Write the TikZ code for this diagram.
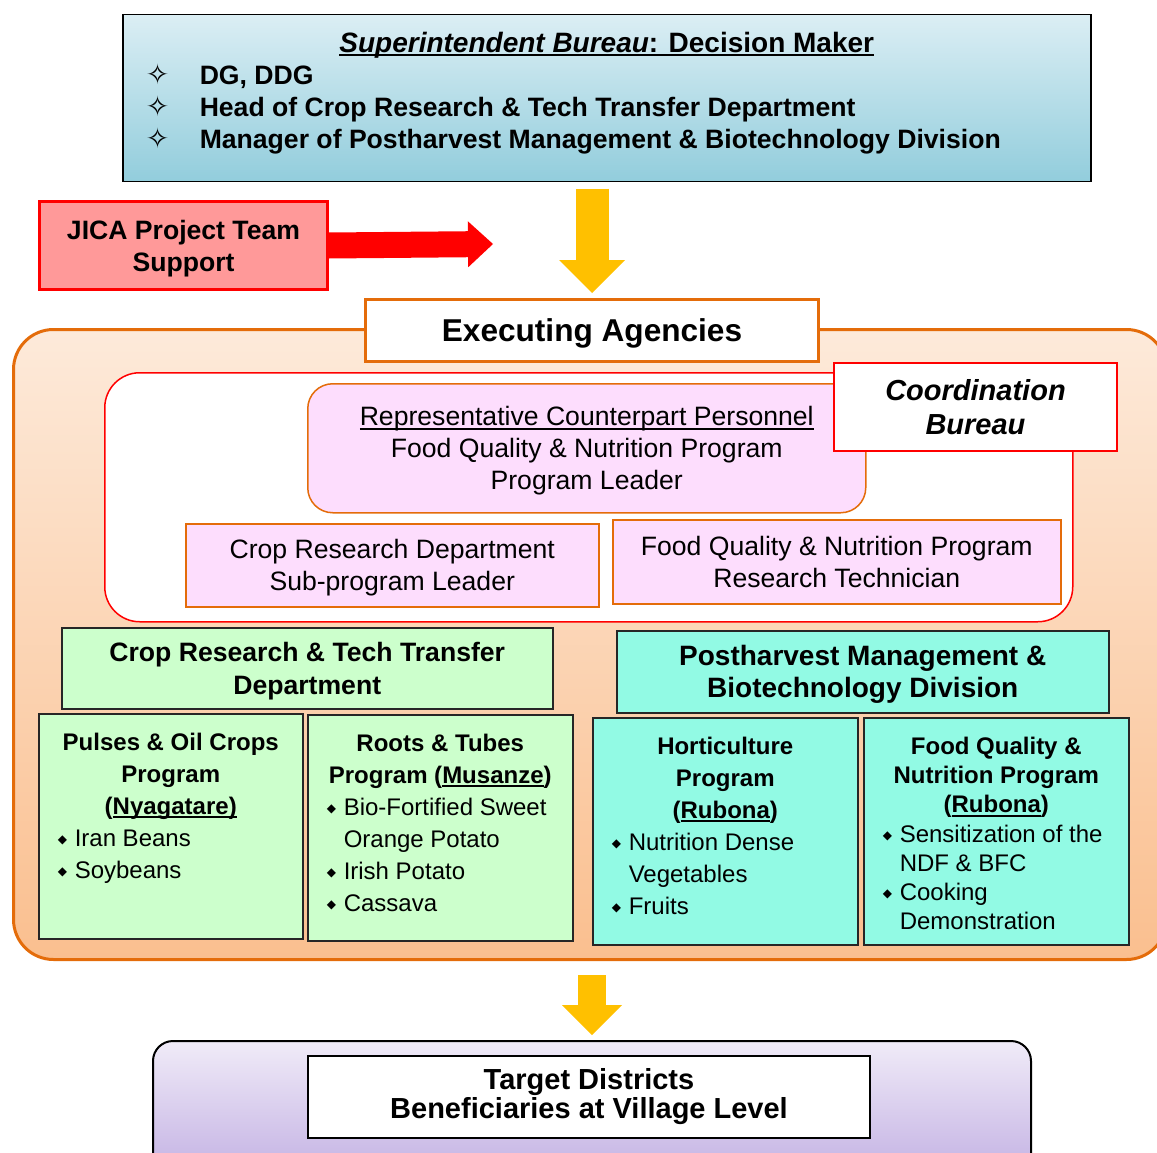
\documentclass[tikz,border=0pt]{standalone}
\usepackage{fontspec}
\setmainfont{Liberation Sans}
\newfontfamily\symfont{DejaVu Sans}
\usepackage{tikz}
\usetikzlibrary{arrows.meta,positioning}
\usepackage{xcolor}
\definecolor{supblue}{RGB}{146,205,220}
\definecolor{supbluelight}{RGB}{219,238,244}
\definecolor{exorange}{RGB}{228,108,10}
\definecolor{exlight}{RGB}{253,234,218}
\definecolor{exdark}{RGB}{250,191,143}
\definecolor{cpink}{RGB}{253,221,253}
\definecolor{cgreen}{RGB}{204,255,204}
\definecolor{cteal}{RGB}{146,250,228}
\definecolor{jicared}{RGB}{255,153,153}
\definecolor{arrowyellow}{RGB}{255,192,0}
\definecolor{tglight}{RGB}{240,235,248}
\definecolor{tgdark}{RGB}{195,177,227}
\tikzstyle{yarrow} = [line width=33pt,-{Triangle[width=66pt,length=33pt,line width=0pt]},color=arrowyellow]
\newcommand{\bul}{\makebox[17pt][l]{\raisebox{3pt}{\symfont\fontsize{12}{12}\selectfont ◆}}}
\newcommand{\dstar}{\makebox[54pt][l]{\symfont\fontsize{28}{28}\selectfont ✧}}
\newcommand{\ulin}[1]{\leavevmode\setbox0\hbox{#1}\rlap{\rule[-4pt]{\wd0}{1.8pt}}\box0}
\newcommand{\fixbox}[3]{\parbox[c][#2][t]{#1}{#3}}

\begin{document}
\begin{tikzpicture}[
    x=1pt, y=-1pt,
    every node/.style={inner sep=0pt, font=\fontsize{26.6}{32}\selectfont},
    unit/.style={rectangle, anchor=north west, align=center},
    pinkunit/.style={unit, draw=exorange, line width=1.5pt, fill=cpink},
    header/.style={unit, draw=black!85, line width=1.5pt, text depth=0pt, font=\fontsize{26.6}{33}\selectfont\bfseries},
    program/.style={rectangle, anchor=north west, draw=black!85, line width=1.5pt, inner xsep=19pt, inner ysep=19pt, font=\fontsize{24}{32}\selectfont}
]
\useasboundingbox (0,0) rectangle (1157,1153);

% Superintendent bureau
\node (super) [unit, draw=black, line width=1.5pt, top color=supbluelight, bottom color=supblue, inner xsep=23pt, inner ysep=17pt] at (122,14) {\fixbox{922pt}{133pt}{%
  {\centering\fontsize{28}{32}\selectfont\bfseries\ulin{\textit{Superintendent Bureau}: Decision Maker}\par}
  \raggedright\bfseries
  \dstar DG, DDG\\
  \dstar Head of Crop Research \& Tech Transfer Department\\
  \dstar Manager of Postharvest Management \& Biotechnology Division}};

% JICA support
\node (jica) [unit, draw=red, line width=3pt, fill=jicared, minimum width=288pt, minimum height=88pt, text depth=0pt, font=\fontsize{26.6}{32}\selectfont\bfseries] at (38,200) {JICA Project Team\\Support};
\coordinate (jicatip) at (493,244);

% Executing agencies
\node (exebg) [unit, draw=exorange, line width=3pt, rounded corners=40pt, top color=exlight, bottom color=exdark, minimum width=1153pt, minimum height=630pt] at (12,328) {};
\node (exec) [unit, draw=exorange, line width=3pt, fill=white, minimum width=453pt, minimum height=62pt, text depth=0pt, font=\fontsize{31.6}{36}\selectfont\bfseries] at (364,298) {Executing Agencies};

% Coordination bureau
\node (coordbg) [unit, draw=red, line width=1.5pt, fill=white, rounded corners=35pt, minimum width=968pt, minimum height=249pt] at (104,372) {};
\node (rep) [pinkunit, rounded corners=25pt, minimum width=558pt, minimum height=129pt, text depth=0pt] at (307,383) {\ulin{Representative Counterpart Personnel}\\Food Quality \& Nutrition Program\\Program Leader};
\node (coord) [unit, draw=red, line width=2pt, fill=white, minimum width=283pt, minimum height=88pt, font=\fontsize{29}{34}\selectfont\bfseries\itshape] at (833,362) {Coordination\\Bureau};
\node (subleader) [pinkunit, minimum width=413pt, minimum height=83pt, text depth=0pt] at (185,523) {Crop Research Department\\Sub-program Leader};
\node (technician) [pinkunit, minimum width=448pt, minimum height=84pt] at (612,519) {Food Quality \& Nutrition Program\\Research Technician};

% Departments
\node (cropdept) [header, fill=cgreen, minimum width=491pt, minimum height=81pt] at (61,627) {Crop Research \& Tech Transfer\\Department};
\node (phdiv) [header, fill=cteal, minimum width=492pt, minimum height=82pt, font=\fontsize{28}{32}\selectfont\bfseries] at (616,630) {Postharvest Management \&\\Biotechnology Division};

% Programs
\node (pulses) [program, fill=cgreen] at (38,713) {\fixbox{226pt}{187pt}{%
  {\centering\bfseries Pulses \& Oil Crops\\Program\\(\ulin{Nyagatare)}\par}
  \raggedright\bul Iran Beans\\\bul Soybeans}};
\node (roots) [program, fill=cgreen] at (307,714) {\fixbox{227pt}{188pt}{%
  {\centering\bfseries Roots \& Tubes\\Program (\ulin{Musanze})\par}
  \raggedright\bul Bio-Fortified Sweet\\\hspace*{17pt}Orange Potato\\\bul Irish Potato\\\bul Cassava}};
\node (horti) [program, fill=cteal] at (592,717) {\fixbox{227pt}{189pt}{%
  {\centering\bfseries Horticulture\\Program\\(\ulin{Rubona})\par}
  \raggedright\bul Nutrition Dense\\\hspace*{17pt}Vegetables\\\bul Fruits}};
\node (foodq) [program, fill=cteal, font=\fontsize{24}{29.3}\selectfont] at (863,717) {\fixbox{227pt}{189pt}{%
  {\centering\bfseries Food Quality \&\\Nutrition Program\\(\ulin{Rubona})\par}
  \raggedright\bul Sensitization of the\\\hspace*{17pt}NDF \& BFC\\\bul Cooking\\\hspace*{17pt}Demonstration}};

% Target districts
\node (districts) [unit, draw=black, line width=2pt, rounded corners=20pt, top color=tglight, bottom color=tgdark, minimum width=878pt, minimum height=135pt] at (152,1040) {};
\node (target) [unit, draw=black, line width=2pt, fill=white, minimum width=562pt, minimum height=82pt, font=\fontsize{29}{29}\selectfont\bfseries] at (307,1055) {Target Districts\\Beneficiaries at Village Level};

% Arrows
\draw[yarrow, shorten <=6pt, shorten >=5pt] (super.south -| exec.north) -- (exec.north);
\draw[line width=26pt, red, -{Triangle[width=46pt,length=25pt,line width=0pt]}] (jica.east) -- (jicatip);
\draw[yarrow, line width=28pt, -{Triangle[width=60pt,length=30pt,line width=0pt]}, shorten <=14pt, shorten >=5pt] (exebg.south -| districts.north) -- (districts.north);
\end{tikzpicture}
\end{document}
